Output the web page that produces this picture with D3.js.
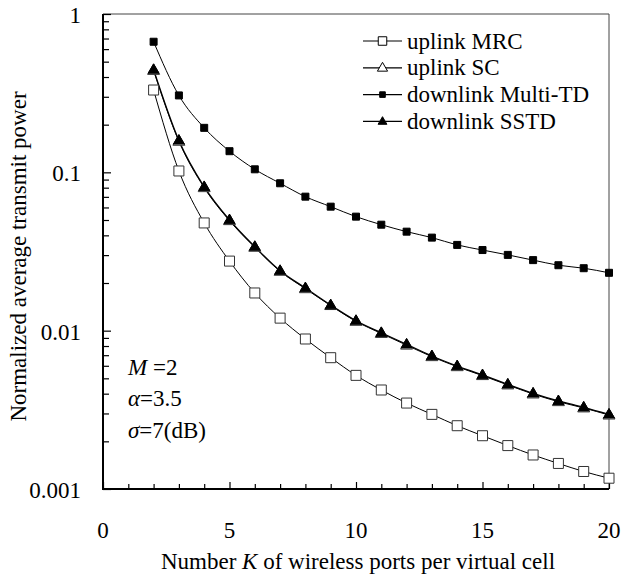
<!DOCTYPE html>
<html>
<head>
<meta charset="utf-8">
<script src="https://cdn.jsdelivr.net/npm/d3@7"></script>
<style>
  body { margin: 0; background: #fff; }
  text { font-family: "Liberation Serif", "Times New Roman", serif; fill: #000; }
</style>
</head>
<body>
<svg class="chart" width="623" height="574"></svg>
<script>
// K values and the four curves
const kValues = [2,3,4,5,6,7,8,9,10,11,12,13,14,15,16,17,18,19,20];
const uplinkMRC = [0.331,0.102,0.0479,0.0275,0.0173,0.0120,0.00886,0.00675,0.00522,0.00422,0.00349,0.00296,0.00251,0.00217,0.00188,0.00164,0.00145,0.00129,0.00117];
const uplinkSC = [0.44,0.157,0.080,0.0495,0.0336,0.0237,0.0184,0.0144,0.01145,0.0096,0.0081,0.00685,0.00592,0.0052,0.00454,0.00398,0.00356,0.00325,0.00293];
const downlinkMultiTD = [0.668,0.306,0.191,0.136,0.1045,0.0853,0.0702,0.0607,0.0525,0.0467,0.0422,0.0387,0.0348,0.0323,0.0301,0.0279,0.0259,0.0248,0.0232];
const downlinkSSTD = [0.445,0.159,0.081,0.050,0.0339,0.0239,0.0186,0.0145,0.01156,0.0097,0.0082,0.00692,0.00598,0.00525,0.00458,0.00402,0.0036,0.00328,0.00296];

const xTicks = [0,5,10,15,20];
const yTicks = [0.001,0.01,0.1,1];
const seriesNames = ["uplink MRC","uplink SC","downlink Multi-TD","downlink SSTD"];

const fontSize = 23;
const margin = {top: 14, left: 103, right: 14, bottom: 85};
const width = 609 - margin.left;
const height = 489 - margin.top;

const svg = d3.select('.chart');
const g = svg.append('g')
    .attr('transform', `translate(${margin.left}, ${margin.top})`);

const xScale = d3.scaleLinear().domain([0, 20]).range([0, width]);
const yScale = d3.scaleLog().domain([0.001, 1]).range([height, 0]);

// top and right frame lines (thin, grey)
g.append('line').attr('x1', 0).attr('x2', width).attr('y1', 0).attr('y2', 0)
    .attr('stroke', '#444').attr('stroke-width', 1);
g.append('line').attr('x1', width).attr('x2', width).attr('y1', 0).attr('y2', height)
    .attr('stroke', '#444').attr('stroke-width', 1);

// minor ticks
const minorY = [];
for (let d = 0.001; d < 1; d *= 10) {
    for (let m = 2; m <= 9; m++) minorY.push(d * m);
}
g.append('g')
    .attr('class', 'y-minor')
    .call(d3.axisRight(yScale).tickValues(minorY).tickSize(6).tickFormat(''))
    .call(a => a.select('.domain').remove());

const minorX = d3.range(0, 21).filter(v => v % 5 !== 0);
g.append('g')
    .attr('class', 'x-minor')
    .attr('transform', `translate(0, ${height})`)
    .call(d3.axisTop(xScale).tickValues(minorX).tickSize(5).tickFormat(''))
    .call(a => a.select('.domain').remove());

// major ticks (inward) and labels
g.append('g')
    .attr('class', 'y-axis')
    .call(d3.axisRight(yScale).tickValues(yTicks).tickSize(8).tickFormat(''))
    .call(a => a.select('.domain').remove());
g.selectAll('.y-label')
    .data(yTicks)
    .enter()
    .append('text')
    .attr('x', -22)
    .attr('y', d => yScale(d) + 9)
    .attr('text-anchor', 'end')
    .attr('font-size', fontSize)
    .text(d => d3.format('~g')(d));

g.append('g')
    .attr('class', 'x-axis')
    .attr('transform', `translate(0, ${height})`)
    .call(d3.axisTop(xScale).tickValues(xTicks).tickSize(7).tickFormat(''))
    .call(a => a.select('.domain').remove());
g.selectAll('.x-label')
    .data(xTicks)
    .enter()
    .append('text')
    .attr('x', d => xScale(d))
    .attr('y', height + 49)
    .attr('text-anchor', 'middle')
    .attr('font-size', fontSize)
    .text(d => d);

g.selectAll('.tick line').attr('stroke', '#000').attr('stroke-width', 1.2);

// main axis lines
g.append('line').attr('x1', 0).attr('x2', 0).attr('y1', 0).attr('y2', height + 1)
    .attr('stroke', '#000').attr('stroke-width', 2);
g.append('line').attr('x1', -1).attr('x2', width).attr('y1', height).attr('y2', height)
    .attr('stroke', '#000').attr('stroke-width', 2);

// axis titles
const xTitle = g.append('text')
    .attr('x', width / 2 + 2)
    .attr('y', height + 80)
    .attr('text-anchor', 'middle')
    .attr('font-size', fontSize);
xTitle.append('tspan').text('Number ');
xTitle.append('tspan').attr('font-style', 'italic').text('K');
xTitle.append('tspan').text(' of wireless ports per virtual cell');

g.append('text')
    .attr('transform', `translate(-77, ${height / 2 + 5}) rotate(-90)`)
    .attr('text-anchor', 'middle')
    .attr('font-size', fontSize)
    .text('Normalized average transmit power');

// series
const line = d3.line()
    .x(d => xScale(d.k))
    .y(d => yScale(d.v))
    .curve(d3.curveMonotoneX);

const series = [
    {name: seriesNames[0], values: uplinkMRC, marker: 'square', fill: '#fff', size: 10, sw: 1},
    {name: seriesNames[1], values: uplinkSC, marker: 'triangle', fill: '#fff', size: 12, sw: 1},
    {name: seriesNames[2], values: downlinkMultiTD, marker: 'square', fill: '#000', size: 7, sw: 1},
    {name: seriesNames[3], values: downlinkSSTD, marker: 'triangle', fill: '#000', size: 11, sw: 1.3}
];

function markerPath(type, size) {
    if (type === 'square') {
        const h = size / 2;
        return `M${-h},${-h}H${h}V${h}H${-h}Z`;
    }
    const h = size * 0.866;
    return `M0,${-h * 0.62}L${size / 2},${h * 0.38}L${-size / 2},${h * 0.38}Z`;
}

for (const s of series) {
    const pts = kValues.map((k, i) => ({k: k, v: s.values[i]}));
    g.append('path')
        .datum(pts)
        .attr('fill', 'none')
        .attr('stroke', '#000')
        .attr('stroke-width', s.sw)
        .attr('d', line);
}
for (const s of series) {
    const pts = kValues.map((k, i) => ({k: k, v: s.values[i]}));
    g.selectAll()
        .data(pts)
        .enter()
        .append('path')
        .attr('transform', d => `translate(${xScale(d.k)}, ${yScale(d.v)})`)
        .attr('d', markerPath(s.marker, s.size))
        .attr('fill', s.fill)
        .attr('stroke', s.fill === '#fff' ? '#333' : '#000')
        .attr('stroke-width', 1);
}

// legend
const legend = svg.append('g').attr('transform', 'translate(363, 41)');
series.forEach((s, i) => {
    const row = legend.append('g').attr('transform', `translate(0, ${i * 26.8})`);
    row.append('line').attr('x1', 0).attr('x2', 39).attr('y1', 0).attr('y2', 0)
        .attr('stroke', '#000').attr('stroke-width', 1.2);
    row.append('path')
        .attr('transform', 'translate(19.5, 0)')
        .attr('d', markerPath(s.marker, s.fill === '#fff' ? s.size * 0.85 : s.size * 0.8))
        .attr('fill', s.fill)
        .attr('stroke', '#000')
        .attr('stroke-width', 1);
    row.append('text')
        .attr('x', 44)
        .attr('y', 7.5)
        .attr('font-size', fontSize)
        .text(s.name);
});

// parameter notes
const notes = g.append('g').attr('transform', 'translate(25, 0)');
const n1 = notes.append('text').attr('y', 361).attr('font-size', fontSize);
n1.append('tspan').attr('font-style', 'italic').text('M');
n1.append('tspan').text(' =2');
const n2 = notes.append('text').attr('y', 392).attr('font-size', fontSize);
n2.append('tspan').attr('font-style', 'italic').text('α');
n2.append('tspan').text('=3.5');
const n3 = notes.append('text').attr('y', 424).attr('font-size', fontSize);
n3.append('tspan').attr('font-style', 'italic').text('σ');
n3.append('tspan').text('=7(dB)');
</script>
</body>
</html>
